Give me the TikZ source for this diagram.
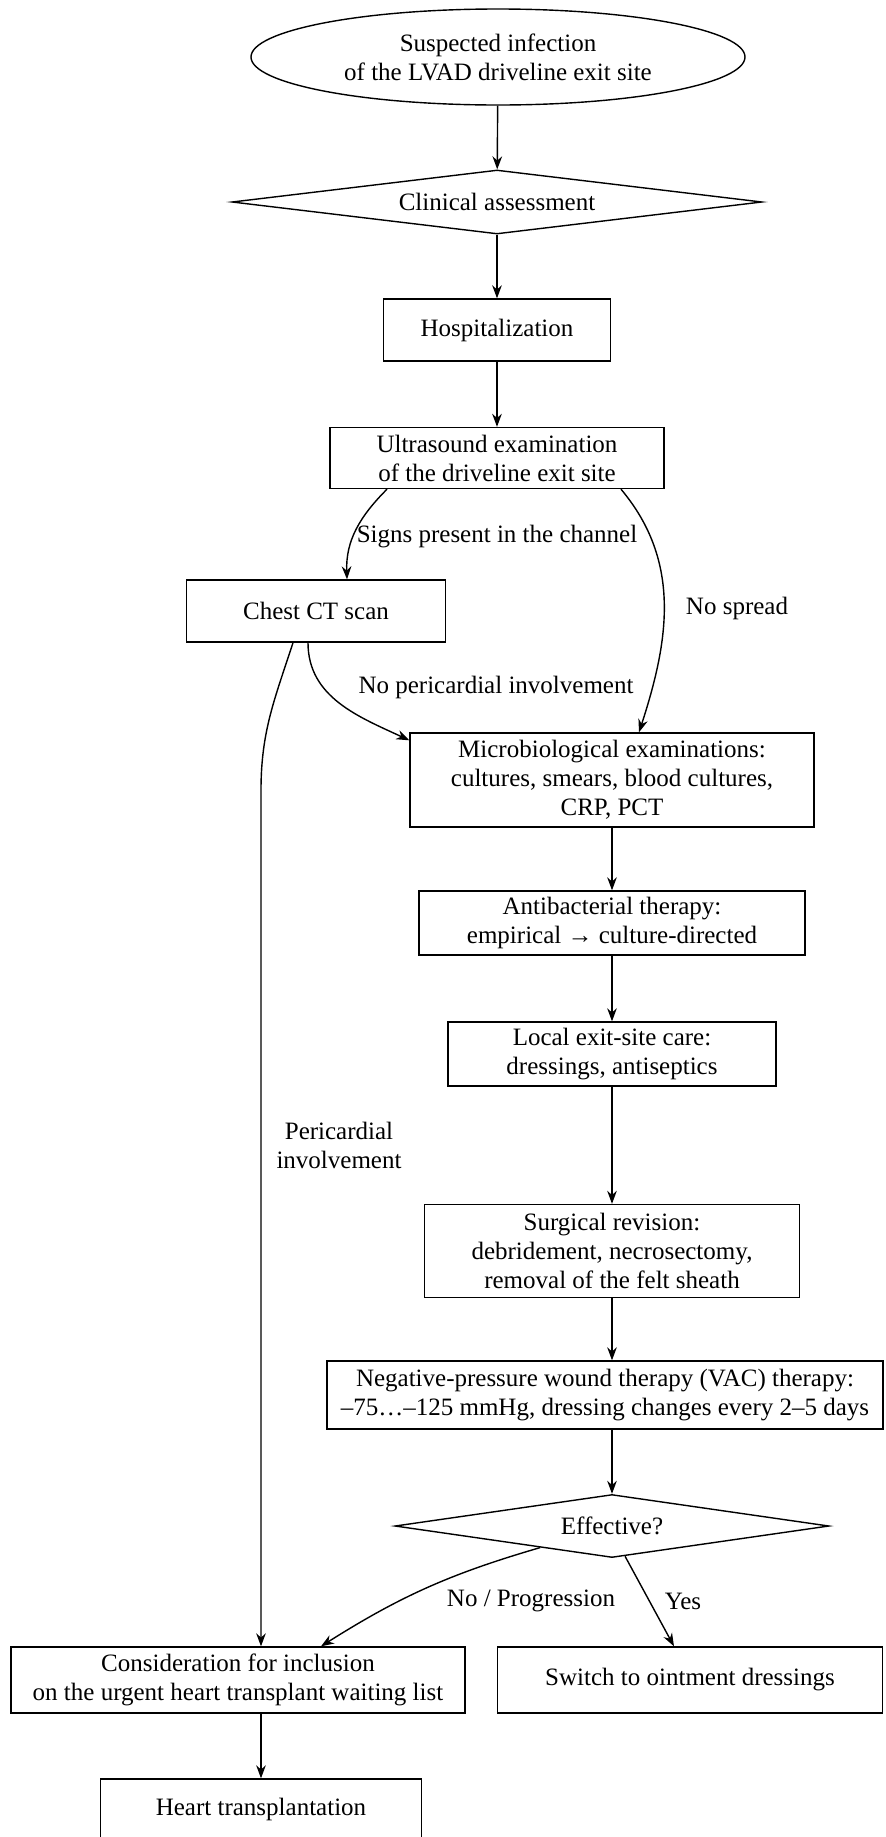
\documentclass[tikz,border=0pt]{standalone}
\usepackage{fontspec}
\setmainfont{Liberation Serif}
\usetikzlibrary{shapes.geometric,arrows.meta,calc}
\tikzset{
	box/.style={draw, rectangle, align=center, inner sep=2pt},
	decision/.style={draw, diamond, aspect=8, inner sep=1pt, align=center},
	arr/.style={-{Stealth[length=6.5pt,width=4.8pt]}},
}
\begin{document}
\begin{tikzpicture}[x=0.5pt, y=0.5pt, line width=0.7pt, font=\fontsize{12.5}{14.5}\selectfont]
	\useasboundingbox (0,0) rectangle (885,-1837);
	\clip (0,0) rectangle (885,-1837);
	\node[draw, ellipse, align=center, minimum width=247pt, minimum height=48pt] (suspect) at (498,-57) {Suspected infection\\of the LVAD driveline exit site};
	\node[decision, minimum width=265pt, minimum height=32pt] (assess) at (497,-202) {Clinical assessment};
	\node[box, minimum width=113.5pt, minimum height=31pt] (hosp) at (497,-330) {Hospitalization};
	\node[box, minimum width=167pt, minimum height=30.5pt] (us) at (497,-458) {Ultrasound examination\\of the driveline exit site};
	\node[box, minimum width=129.5pt, minimum height=31pt] (ct) at (316,-611) {Chest CT scan};
	\node[box, minimum width=202pt, minimum height=47pt] (micro) at (612,-780) {Microbiological examinations:\\cultures, smears, blood cultures,\\CRP, PCT};
	\node[box, minimum width=193pt, minimum height=32pt] (abx) at (612,-923) {Antibacterial therapy:\\empirical → culture-directed};
	\node[box, minimum width=164pt, minimum height=32pt] (care) at (612,-1054) {Local exit-site care:\\dressings, antiseptics};
	\node[box, minimum width=187.5pt, minimum height=46.5pt] (surg) at (612,-1251) {Surgical revision:\\debridement, necrosectomy,\\removal of the felt sheath};
	\node[box, minimum width=278pt, minimum height=34pt] (vac) at (605,-1395) {Negative-pressure wound therapy (VAC) therapy:\\–75…–125 mmHg, dressing changes every 2–5 days};
	\node[decision, minimum width=217pt, minimum height=31.5pt] (eff) at (612,-1526) {Effective?};
	\node[box, minimum width=227pt, minimum height=33pt] (list) at (238,-1680) {Consideration for inclusion\\on the urgent heart transplant waiting list};
	\node[box, minimum width=192.5pt, minimum height=33pt] (switch) at (690,-1680) {Switch to ointment dressings};
	\node[box, minimum width=160.5pt, minimum height=30pt] (htx) at (261,-1809) {Heart transplantation};
	\coordinate (pcbend) at (261,-790);
	\draw[arr] (suspect) -- (assess);
	\draw[arr] (assess) -- (hosp);
	\draw[arr] (hosp) -- (us);
	\draw[arr] ([xshift=-55pt]us.south) to[out=-135, in=92] ([xshift=15.5pt]ct.north);
	\draw[arr] ([xshift=62pt]us.south) to[out=-50, in=72] ([xshift=13.5pt]micro.north);
	\draw[arr] ([xshift=-4pt]ct.south) to[out=-90, in=155] ([yshift=-4pt]micro.north west);
	\draw[arr] ([xshift=-11.5pt]ct.south) to[out=-108, in=90] (pcbend) -- (htx.north |- list.north);
	\draw[arr] (micro) -- (abx);
	\draw[arr] (abx) -- (care);
	\draw[arr] (care) -- (surg);
	\draw[arr] (surg) -- (surg.south |- vac.north);
	\draw[arr] (surg.south |- vac.south) -- (eff);
	\draw[arr] ($(eff.south)!0.33!(eff.west)$) to[bend right=8] ([xshift=41.5pt]list.north);
	\draw[arr] ($(eff.south)!0.06!(eff.east)$) -- ([xshift=-8pt]switch.north);
	\draw[arr] (htx.north |- list.south) -- (htx);
	\node (signs) at (497,-537) {Signs present in the channel};
	\node (nospread) at (737,-608) {No spread};
	\node (nopc) at (496,-687) {No pericardial involvement};
	\node[align=center] (pc) at (339,-1145) {Pericardial\\involvement};
	\node (noprog) at (531,-1601) {No / Progression};
	\node (yes) at (683,-1601) {Yes};
\end{tikzpicture}
\end{document}
